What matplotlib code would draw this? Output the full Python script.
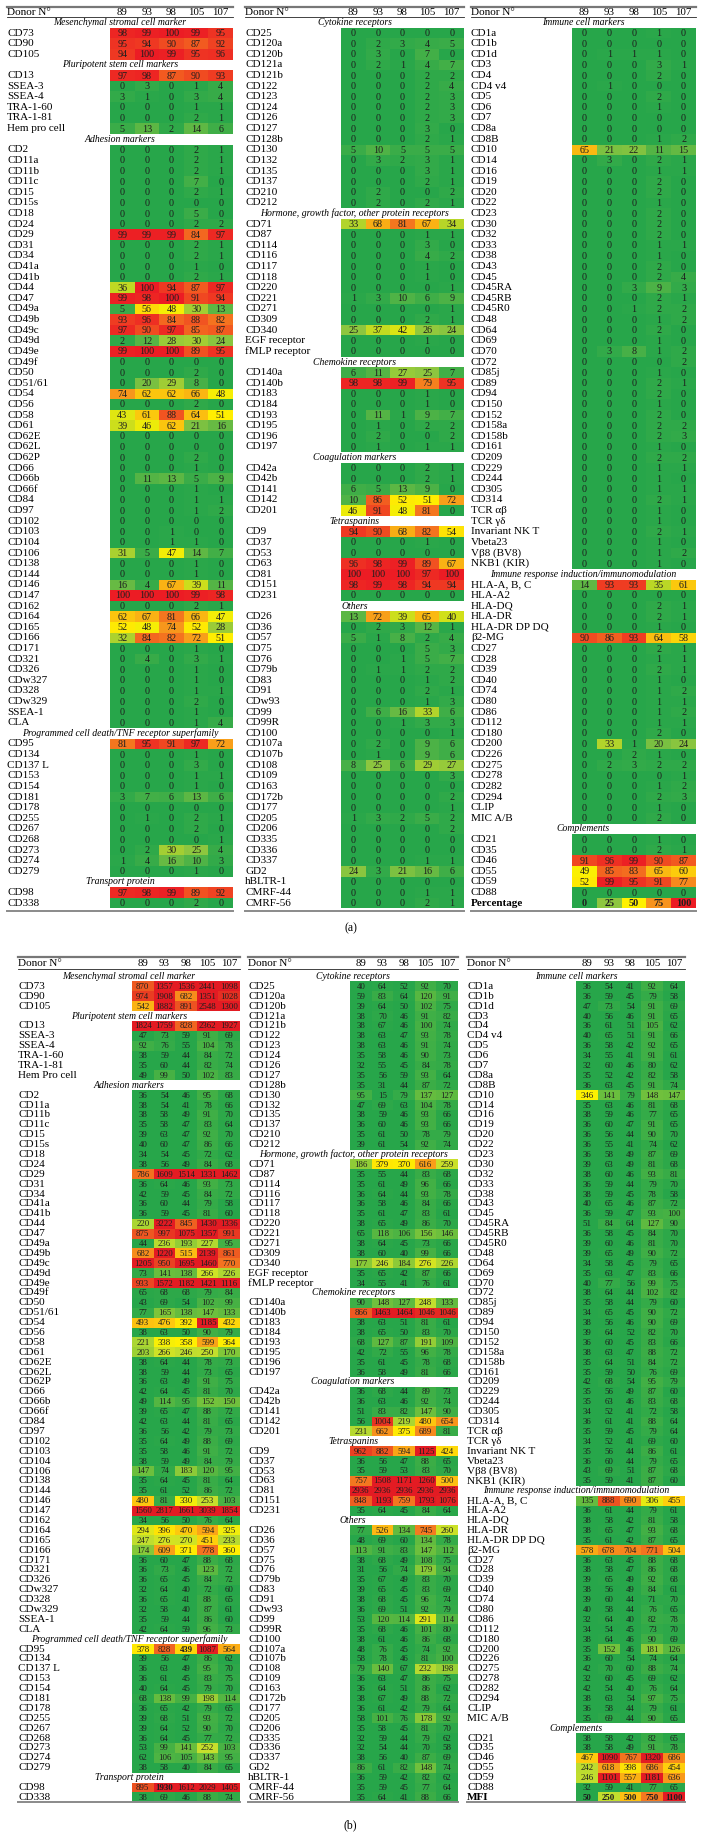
import numpy as np
import matplotlib
matplotlib.use("Agg")
import matplotlib.pyplot as plt
from matplotlib.colors import LinearSegmentedColormap, Normalize

plt.rcParams['font.family'] = ['Liberation Serif', 'DejaVu Serif']

donors = ["89", "93", "98", "105", "107"]

# ---------------- column 1 ----------------
msc_labels = ["CD73", "CD90", "CD105"]
msc_pct = [[98, 99, 100, 99, 95], [95, 94, 90, 87, 92], [94, 100, 99, 95, 96]]
msc_mfi = [[870, 1357, 1536, 2441, 1098], [974, 1908, 682, 1351, 1028], [542, 1882, 891, 2548, 1300]]

pluri_labels = ["CD13", "SSEA-3", "SSEA-4", "TRA-1-60", "TRA-1-81", "Hem pro cell"]
pluri_labels_b = ["CD13", "SSEA-3", "SSEA-4", "TRA-1-60", "TRA-1-81", "Hem Pro cell"]
pluri_pct = [[97, 98, 87, 90, 93], [0, 3, 0, 1, 4], [3, 1, 0, 3, 4], [0, 0, 0, 1, 1],
             [0, 0, 0, 2, 1], [5, 13, 2, 14, 6]]
pluri_mfi = [[1824, 1759, 828, 2362, 1927], [47, 73, 59, 91, 69], [92, 76, 55, 104, 78],
             [38, 59, 44, 84, 72], [35, 60, 44, 82, 74], [49, 99, 50, 102, 83]]

adh_labels = ["CD2", "CD11a", "CD11b", "CD11c", "CD15", "CD15s", "CD18", "CD24", "CD29", "CD31",
              "CD34", "CD41a", "CD41b", "CD44", "CD47", "CD49a", "CD49b", "CD49c", "CD49d", "CD49e",
              "CD49f", "CD50", "CD51/61", "CD54", "CD56", "CD58", "CD61", "CD62E", "CD62L", "CD62P",
              "CD66", "CD66b", "CD66f", "CD84", "CD97", "CD102", "CD103", "CD104", "CD106", "CD138",
              "CD144", "CD146", "CD147", "CD162", "CD164", "CD165", "CD166", "CD171", "CD321", "CD326",
              "CDw327", "CD328", "CDw329", "SSEA-1", "CLA"]
adh_pct = [[0, 0, 0, 2, 1], [0, 0, 0, 2, 1], [0, 0, 0, 2, 1], [0, 0, 0, 7, 0], [0, 0, 0, 2, 1],
           [0, 0, 0, 0, 0], [0, 0, 0, 5, 0], [0, 0, 0, 2, 2], [99, 99, 99, 84, 97], [0, 0, 0, 2, 1],
           [0, 0, 0, 2, 1], [0, 0, 0, 1, 0], [0, 0, 0, 2, 1], [36, 100, 94, 87, 97], [99, 98, 100, 91, 94],
           [5, 56, 48, 30, 13], [93, 96, 84, 88, 82], [97, 90, 97, 85, 87], [2, 12, 28, 30, 24],
           [99, 100, 100, 89, 95], [0, 0, 0, 0, 0], [0, 0, 0, 2, 0], [0, 20, 29, 8, 0],
           [74, 62, 62, 66, 48], [0, 0, 0, 2, 0], [43, 61, 88, 64, 51], [39, 46, 62, 21, 16],
           [0, 0, 0, 0, 0], [0, 0, 0, 0, 0], [0, 0, 0, 2, 0], [0, 0, 0, 1, 0], [0, 11, 13, 5, 9],
           [0, 0, 0, 1, 0], [0, 0, 0, 1, 1], [0, 0, 0, 1, 2], [0, 0, 0, 0, 0], [0, 0, 1, 0, 0],
           [0, 0, 1, 1, 0], [31, 5, 47, 14, 7], [0, 0, 0, 1, 0], [0, 0, 0, 1, 0], [16, 4, 67, 39, 11],
           [100, 100, 100, 99, 98], [0, 0, 0, 2, 1], [62, 67, 81, 66, 47], [52, 48, 74, 52, 28],
           [32, 84, 82, 72, 51], [0, 0, 0, 1, 0], [0, 4, 0, 3, 1], [0, 0, 0, 1, 0], [0, 0, 0, 1, 0],
           [0, 0, 0, 1, 1], [0, 0, 0, 2, 0], [0, 0, 0, 1, 0], [0, 0, 0, 1, 4]]
adh_mfi = [[36, 54, 46, 95, 68], [38, 54, 41, 78, 66], [38, 58, 49, 91, 70], [35, 58, 47, 83, 64],
           [39, 63, 47, 92, 70], [40, 60, 47, 86, 66], [34, 54, 45, 72, 62], [38, 56, 49, 84, 68],
           [786, 1609, 1514, 1331, 1462], [36, 64, 46, 93, 73], [42, 59, 45, 84, 72], [36, 60, 44, 79, 58],
           [36, 59, 45, 81, 60], [220, 3222, 845, 1430, 1336], [875, 997, 1075, 1357, 991],
           [44, 236, 193, 227, 95], [682, 1220, 515, 2139, 861], [1205, 950, 1695, 1460, 770],
           [73, 141, 138, 266, 226], [933, 1572, 1182, 1421, 1116], [65, 68, 68, 79, 84],
           [43, 69, 54, 102, 99], [77, 165, 138, 147, 133], [493, 476, 392, 1185, 432],
           [38, 63, 50, 90, 79], [221, 338, 358, 599, 364], [203, 266, 246, 250, 170],
           [38, 64, 44, 78, 73], [38, 59, 44, 73, 65], [36, 63, 49, 91, 75], [42, 64, 45, 81, 70],
           [49, 114, 95, 152, 150], [39, 65, 47, 88, 72], [42, 63, 44, 81, 65], [36, 56, 42, 79, 73],
           [35, 64, 49, 88, 69], [35, 58, 46, 91, 72], [38, 59, 49, 84, 79], [147, 74, 183, 120, 95],
           [35, 64, 45, 81, 64], [35, 61, 52, 86, 72], [480, 81, 330, 253, 103],
           [1560, 2817, 1661, 3039, 1854], [34, 56, 50, 76, 64], [294, 396, 470, 594, 325],
           [247, 276, 270, 451, 233], [174, 609, 371, 778, 360], [36, 60, 47, 88, 68],
           [36, 73, 46, 123, 72], [36, 65, 45, 84, 72], [32, 64, 40, 72, 60], [36, 65, 41, 88, 65],
           [32, 58, 40, 87, 61], [35, 59, 44, 86, 60], [42, 64, 59, 96, 73]]

pcd_labels = ["CD95", "CD134", "CD137 L", "CD153", "CD154", "CD181", "CD178", "CD255", "CD267",
              "CD268", "CD273", "CD274", "CD279"]
pcd_pct = [[81, 95, 91, 97, 72], [0, 0, 0, 1, 0], [0, 0, 0, 3, 0], [0, 0, 0, 1, 1], [0, 0, 0, 1, 0],
           [3, 7, 6, 13, 6], [0, 0, 0, 0, 0], [0, 1, 0, 2, 1], [0, 0, 0, 2, 0], [0, 0, 0, 0, 1],
           [0, 2, 30, 25, 4], [1, 4, 16, 10, 3], [0, 0, 0, 1, 0]]
pcd_mfi = [[378, 828, 439, 1087, 564], [39, 56, 47, 86, 62], [36, 63, 49, 95, 70], [36, 61, 45, 83, 75],
           [40, 64, 45, 79, 70], [68, 138, 99, 198, 114], [36, 65, 42, 79, 65], [39, 68, 51, 93, 72],
           [39, 64, 52, 90, 70], [36, 64, 45, 77, 72], [53, 99, 141, 252, 103], [62, 106, 105, 143, 95],
           [38, 58, 40, 84, 65]]

trans_labels = ["CD98", "CD338"]
trans_pct = [[97, 98, 99, 89, 92], [0, 0, 0, 2, 0]]
trans_mfi = [[895, 1930, 1612, 2029, 1405], [38, 69, 46, 88, 74]]

# ---------------- column 2 ----------------
cyto_labels = ["CD25", "CD120a", "CD120b", "CD121a", "CD121b", "CD122", "CD123", "CD124", "CD126",
               "CD127", "CD128b", "CD130", "CD132", "CD135", "CD137", "CD210", "CD212"]
cyto_pct = [[0, 0, 0, 0, 0], [0, 2, 3, 4, 5], [0, 3, 0, 7, 0], [0, 2, 1, 4, 7], [0, 0, 0, 2, 2],
            [0, 0, 0, 2, 4], [0, 0, 0, 2, 3], [0, 0, 0, 2, 3], [0, 0, 0, 2, 3], [0, 0, 0, 3, 0],
            [0, 0, 0, 2, 1], [5, 10, 5, 5, 5], [0, 3, 2, 3, 1], [0, 0, 0, 3, 1], [0, 0, 0, 2, 1],
            [0, 2, 0, 0, 2], [0, 2, 0, 2, 1]]
cyto_mfi = [[40, 64, 52, 92, 70], [59, 83, 64, 120, 91], [39, 64, 50, 102, 75], [38, 70, 46, 91, 82],
            [38, 67, 46, 100, 74], [38, 63, 47, 93, 78], [38, 63, 46, 91, 74], [35, 58, 46, 90, 73],
            [32, 55, 45, 84, 78], [35, 56, 59, 93, 64], [35, 31, 44, 87, 72], [95, 15, 79, 137, 127],
            [47, 69, 63, 104, 78], [38, 59, 46, 93, 66], [36, 60, 46, 93, 66], [35, 61, 50, 78, 79],
            [39, 61, 54, 92, 74]]

horm_labels = ["CD71", "CD87", "CD114", "CD116", "CD117", "CD118", "CD220", "CD221", "CD271",
               "CD309", "CD340", "EGF receptor", "fMLP receptor"]
horm_pct = [[33, 68, 81, 67, 34], [0, 0, 0, 1, 1], [0, 0, 0, 3, 0], [0, 0, 0, 4, 2], [0, 0, 0, 1, 0],
            [0, 0, 0, 1, 0], [0, 0, 0, 0, 1], [1, 3, 10, 6, 9], [0, 0, 0, 0, 1], [0, 0, 0, 2, 1],
            [25, 37, 42, 26, 24], [0, 0, 0, 1, 0], [0, 0, 0, 0, 0]]
horm_mfi = [[186, 379, 370, 616, 259], [35, 55, 44, 83, 68], [35, 61, 49, 96, 66], [36, 64, 44, 93, 78],
            [36, 58, 46, 84, 66], [35, 61, 47, 83, 61], [38, 65, 49, 86, 70], [65, 118, 106, 156, 146],
            [38, 64, 45, 73, 66], [38, 60, 40, 99, 66], [177, 246, 184, 276, 226], [35, 65, 42, 87, 66],
            [34, 55, 41, 76, 61]]

chemo_labels = ["CD140a", "CD140b", "CD183", "CD184", "CD193", "CD195", "CD196", "CD197"]
chemo_pct = [[6, 11, 27, 25, 7], [98, 98, 99, 79, 95], [0, 0, 0, 1, 0], [0, 0, 0, 1, 0],
             [0, 11, 1, 9, 7], [0, 1, 0, 2, 2], [0, 2, 0, 0, 2], [0, 1, 0, 1, 1]]
chemo_mfi = [[90, 148, 127, 248, 133], [866, 1463, 1464, 1046, 1046], [38, 63, 51, 81, 61],
             [38, 65, 50, 83, 70], [68, 127, 87, 191, 109], [42, 72, 55, 96, 78], [35, 61, 45, 78, 68],
             [36, 58, 49, 81, 66]]

coag_labels = ["CD42a", "CD42b", "CD141", "CD142", "CD201"]
coag_pct = [[0, 0, 0, 2, 1], [0, 0, 0, 2, 1], [6, 5, 13, 9, 0], [10, 86, 52, 51, 72], [46, 91, 48, 81, 0]]
coag_mfi = [[36, 68, 44, 89, 73], [36, 63, 46, 92, 74], [51, 83, 82, 147, 90], [56, 1004, 219, 480, 654],
            [231, 662, 375, 689, 81]]

tetra_labels = ["CD9", "CD37", "CD53", "CD63", "CD81", "CD151", "CD231"]
tetra_pct = [[94, 90, 68, 82, 54], [0, 0, 0, 1, 0], [0, 0, 0, 0, 0], [96, 98, 99, 89, 67],
             [100, 100, 100, 97, 100], [98, 99, 98, 94, 94], [0, 0, 0, 0, 0]]
tetra_mfi = [[962, 882, 594, 1125, 424], [36, 56, 47, 88, 65], [35, 59, 53, 83, 70],
             [757, 1508, 1171, 1260, 500], [2936, 2936, 2936, 2936, 2936], [848, 1193, 759, 1793, 1076],
             [35, 64, 45, 84, 64]]

other_labels = ["CD26", "CD36", "CD57", "CD75", "CD76", "CD79b", "CD83", "CD91", "CDw93", "CD99",
                "CD99R", "CD100", "CD107a", "CD107b", "CD108", "CD109", "CD163", "CD172b", "CD177",
                "CD205", "CD206", "CD335", "CD336", "CD337", "GD2", "hBLTR-1", "CMRF-44", "CMRF-56"]
other_pct = [[13, 72, 39, 65, 40], [0, 2, 3, 12, 1], [5, 1, 8, 2, 4], [0, 0, 0, 5, 3], [0, 0, 1, 5, 7],
             [0, 1, 1, 2, 2], [0, 0, 0, 1, 2], [0, 0, 0, 2, 1], [0, 0, 0, 1, 3], [0, 6, 16, 33, 6],
             [0, 0, 1, 3, 3], [0, 0, 0, 0, 1], [0, 2, 0, 9, 6], [0, 1, 0, 9, 6], [8, 25, 6, 29, 27],
             [0, 0, 0, 0, 3], [0, 0, 0, 0, 0], [0, 0, 0, 0, 2], [0, 0, 0, 0, 1], [1, 3, 2, 5, 2],
             [0, 0, 0, 0, 2], [0, 0, 0, 0, 0], [0, 0, 0, 0, 0], [0, 0, 0, 1, 1], [24, 3, 21, 16, 6],
             [0, 0, 0, 0, 0], [0, 0, 0, 1, 1], [0, 0, 0, 2, 1]]
other_mfi = [[77, 526, 134, 745, 260], [48, 69, 60, 134, 78], [113, 91, 83, 147, 112], [38, 68, 49, 108, 75],
             [31, 56, 74, 179, 94], [35, 67, 49, 83, 70], [39, 65, 45, 83, 69], [38, 68, 45, 96, 74],
             [36, 69, 51, 92, 79], [53, 120, 114, 291, 114], [35, 68, 46, 101, 80], [38, 61, 46, 86, 68],
             [48, 76, 45, 74, 92], [58, 78, 46, 81, 100], [79, 140, 67, 232, 198], [36, 63, 47, 86, 75],
             [36, 64, 51, 86, 62], [38, 67, 49, 88, 72], [36, 61, 42, 79, 64], [58, 101, 76, 178, 92],
             [35, 58, 45, 81, 70], [32, 59, 44, 79, 62], [32, 54, 44, 70, 58], [38, 56, 40, 87, 69],
             [86, 61, 82, 148, 74], [36, 59, 42, 82, 62], [35, 59, 45, 77, 64], [35, 64, 41, 88, 66]]

# ---------------- column 3 ----------------
imm_labels = ["CD1a", "CD1b", "CD1d", "CD3", "CD4", "CD4 v4", "CD5", "CD6", "CD7", "CD8a", "CD8B",
              "CD10", "CD14", "CD16", "CD19", "CD20", "CD22", "CD23", "CD30", "CD32", "CD33", "CD38",
              "CD43", "CD45", "CD45RA", "CD45RB", "CD45R0", "CD48", "CD64", "CD69", "CD70", "CD72",
              "CD85j", "CD89", "CD94", "CD150", "CD152", "CD158a", "CD158b", "CD161", "CD209", "CD229",
              "CD244", "CD305", "CD314", "TCR αβ", "TCR γδ", "Invariant NK T", "Vbeta23", "Vβ8 (BV8)",
              "NKB1 (KIR)"]
imm_pct = [[0, 0, 0, 1, 0], [0, 0, 0, 0, 0], [0, 1, 1, 1, 0], [0, 0, 0, 3, 1], [0, 0, 0, 2, 0],
           [0, 1, 0, 0, 0], [0, 0, 0, 2, 0], [0, 0, 0, 1, 0], [0, 0, 0, 0, 0], [0, 0, 0, 0, 0],
           [0, 0, 0, 1, 2], [65, 21, 22, 11, 15], [0, 3, 0, 2, 1], [0, 0, 0, 1, 1], [0, 0, 0, 2, 0],
           [0, 0, 0, 2, 0], [0, 0, 0, 1, 0], [0, 0, 0, 2, 0], [0, 0, 0, 2, 0], [0, 0, 0, 2, 0],
           [0, 0, 0, 1, 1], [0, 0, 0, 1, 0], [0, 0, 0, 2, 0], [0, 0, 0, 2, 4], [0, 0, 3, 9, 3],
           [0, 0, 0, 2, 1], [0, 0, 1, 2, 2], [0, 0, 0, 1, 2], [0, 0, 0, 2, 0], [0, 0, 0, 1, 0],
           [0, 3, 8, 1, 2], [0, 0, 0, 0, 2], [0, 0, 0, 1, 0], [0, 0, 0, 2, 1], [0, 0, 0, 2, 0],
           [0, 0, 0, 1, 0], [0, 0, 0, 2, 0], [0, 0, 0, 2, 2], [0, 0, 0, 2, 3], [0, 0, 0, 1, 0],
           [0, 0, 0, 2, 2], [0, 0, 0, 1, 1], [0, 0, 0, 1, 0], [0, 0, 0, 1, 1], [0, 0, 0, 2, 1],
           [0, 0, 0, 1, 0], [0, 0, 0, 1, 0], [0, 0, 0, 2, 1], [0, 0, 0, 1, 0], [0, 0, 0, 1, 2],
           [0, 0, 0, 1, 0]]
imm_mfi = [[36, 54, 41, 92, 64], [36, 59, 45, 79, 58], [47, 73, 54, 91, 69], [40, 56, 46, 91, 65],
           [36, 61, 51, 105, 62], [40, 65, 51, 91, 66], [36, 58, 42, 92, 65], [34, 55, 41, 91, 61],
           [32, 60, 46, 80, 62], [35, 52, 42, 82, 58], [36, 63, 45, 91, 74], [346, 141, 79, 148, 147],
           [35, 63, 46, 81, 68], [38, 59, 46, 77, 65], [36, 60, 47, 91, 65], [36, 56, 44, 90, 70],
           [36, 55, 41, 74, 62], [36, 58, 49, 87, 69], [39, 63, 49, 81, 68], [38, 60, 46, 93, 81],
           [36, 59, 44, 79, 70], [38, 59, 45, 78, 58], [40, 65, 46, 87, 72], [36, 59, 47, 93, 100],
           [51, 84, 64, 127, 90], [36, 58, 45, 84, 70], [39, 60, 46, 81, 70], [39, 65, 49, 90, 72],
           [34, 58, 45, 79, 65], [35, 63, 47, 83, 66], [40, 77, 56, 99, 75], [38, 64, 44, 102, 82],
           [35, 58, 44, 79, 60], [34, 65, 45, 90, 72], [38, 56, 46, 90, 69], [39, 64, 52, 82, 70],
           [36, 60, 45, 83, 66], [38, 63, 47, 88, 72], [35, 64, 51, 84, 72], [35, 59, 50, 76, 69],
           [42, 68, 54, 95, 79], [35, 56, 49, 87, 60], [35, 63, 46, 83, 68], [34, 52, 41, 72, 58],
           [36, 61, 41, 88, 64], [35, 59, 45, 79, 64], [34, 52, 41, 69, 60], [35, 56, 44, 86, 61],
           [36, 60, 44, 79, 65], [43, 69, 51, 87, 68], [35, 59, 41, 87, 60]]

resp_labels = ["HLA-A, B, C", "HLA-A2", "HLA-DQ", "HLA-DR", "HLA-DR DP DQ", "β2-MG", "CD27", "CD28",
               "CD39", "CD40", "CD74", "CD80", "CD86", "CD112", "CD180", "CD200", "CD226", "CD275",
               "CD278", "CD282", "CD294", "CLIP", "MIC A/B"]
resp_pct = [[14, 93, 93, 35, 61], [0, 0, 0, 0, 0], [0, 0, 0, 2, 1], [0, 0, 0, 2, 1], [0, 0, 0, 1, 0],
            [90, 86, 93, 64, 58], [0, 0, 0, 2, 1], [0, 0, 0, 1, 1], [0, 0, 0, 2, 1], [0, 0, 0, 1, 0],
            [0, 0, 0, 1, 2], [0, 0, 0, 1, 1], [0, 0, 0, 1, 2], [0, 0, 0, 1, 1], [0, 0, 0, 2, 0],
            [0, 33, 1, 20, 24], [0, 0, 2, 1, 0], [0, 2, 3, 2, 2], [0, 0, 0, 0, 1], [0, 0, 0, 1, 2],
            [0, 0, 0, 2, 3], [0, 0, 0, 1, 0], [0, 0, 0, 2, 0]]
resp_mfi = [[135, 888, 690, 306, 455], [36, 61, 44, 79, 61], [38, 58, 42, 81, 58], [38, 65, 47, 93, 68],
            [35, 61, 42, 87, 65], [578, 678, 704, 771, 504], [36, 63, 45, 88, 68], [38, 58, 47, 86, 68],
            [39, 65, 49, 92, 68], [38, 56, 49, 84, 61], [39, 60, 44, 71, 70], [40, 58, 44, 76, 65],
            [32, 64, 40, 82, 78], [34, 54, 45, 73, 70], [38, 64, 46, 90, 69], [35, 152, 46, 181, 126],
            [36, 60, 54, 74, 64], [42, 70, 60, 88, 74], [32, 60, 45, 69, 62], [42, 54, 40, 76, 64],
            [38, 63, 54, 97, 75], [36, 58, 44, 79, 61], [35, 69, 44, 90, 65]]

comp_labels = ["CD21", "CD35", "CD46", "CD55", "CD59", "CD88"]
comp_pct = [[0, 0, 0, 1, 0], [0, 0, 0, 2, 1], [91, 96, 99, 90, 87], [49, 85, 83, 65, 60],
            [52, 99, 95, 91, 77], [0, 0, 0, 0, 0]]
comp_mfi = [[38, 58, 42, 82, 65], [38, 58, 49, 91, 78], [467, 1090, 767, 1320, 686],
            [242, 618, 398, 686, 454], [246, 1101, 557, 1181, 636], [32, 59, 41, 77, 65]]

pct_scale = [0, 25, 50, 75, 100]
mfi_scale = [50, 250, 500, 750, 1100]

# ---------------- layout / style ----------------
W, H = 703, 1838
fig = plt.figure(figsize=(W / 100, H / 100), dpi=100)

green = '#27a64a'
cmap_a = LinearSegmentedColormap.from_list(
    'pct', [(0, green), (0.25, '#8dc63f'), (0.5, '#fff200'), (0.75, '#f7941d'), (1, '#ec1c24')])
norm_a = Normalize(0, 100, clip=True)
mfi_nodes = [(30, green), (60, green), (250, '#c5df2d'), (350, '#fff200'), (500, '#fdbf12'),
             (750, '#f47920'), (1100, '#e31b23')]
cmap_b = LinearSegmentedColormap.from_list(
    'mfi', [((v - 30) / 1070, c) for v, c in mfi_nodes])
norm_b = Normalize(30, 1100, clip=True)

panels = {
    'a': dict(top=7, header=12.8, under=17.3, y0=22.5, pitch=10.61, bottom=911,
              cols=[(7, 110, 233), (245, 341, 464), (471, 572, 696)],
              cmap=cmap_a, norm=norm_a, num_size=7.3, caption=(351, 928)),
    'b': dict(top=957, header=963.5, under=969, y0=976.5, pitch=9.89, bottom=1802,
              cols=[(18, 132, 240), (248, 350, 458), (467, 576, 685)],
              cmap=cmap_b, norm=norm_b, num_size=6.3, caption=(350, 1825)),
}
bold_cells = {'b': [("CD95", 2), ("CD98", 1)]}
text_dark = '#1e1e1e'


def draw_column(key, ci, sections, legend=None):
    lay = panels[key]
    lx, cl, cr = lay['cols'][ci]
    cw = (cr - cl) / 5.0
    y0, p = lay['y0'], lay['pitch']

    rows = []
    for title, labels, vals in sections:
        rows.append(('title', title, None))
        for lab, v in zip(labels, vals):
            rows.append(('data', lab, v))
    if legend is not None:
        rows.append(('legend', legend[0], legend[1]))
    n = len(rows)
    grid = np.full((n, 5), np.nan)
    for i, (kind, lab, v) in enumerate(rows):
        if v is not None:
            grid[i] = v

    top_px, bot_px = lay['top'] - 3, lay['bottom'] + 3
    ax = fig.add_axes([lx / W, 1 - bot_px / H, (cr - lx) / W, (bot_px - top_px) / H])
    to_row = lambda px: (px - y0) / p
    xmin = -(cl - lx) / cw
    ax.set_xlim(xmin, 5)
    ax.set_ylim(to_row(bot_px), to_row(top_px))
    ax.axis('off')

    ax.pcolormesh(np.arange(6), np.arange(n + 1) - 0.5, np.ma.masked_invalid(grid),
                  cmap=lay['cmap'], norm=lay['norm'], shading='flat')

    # header
    hy = to_row(lay['header'])
    ax.text(xmin, hy, "Donor N°", ha='left', va='center', fontsize=8.0)
    for j, d in enumerate(donors):
        ax.text(j + 0.5, hy, d, ha='center', va='center', fontsize=7.8)
    ax.plot([xmin, 5], [to_row(lay['top'])] * 2, color='#777777', lw=1.6, clip_on=False)
    ax.plot([xmin, 5], [to_row(lay['under'])] * 2, color='#222222', lw=0.6, clip_on=False)
    ax.plot([xmin, 5], [to_row(lay['bottom'])] * 2, color='#8a8a8a', lw=1.4, clip_on=False)

    bolds = bold_cells.get(key, [])
    for i, (kind, lab, v) in enumerate(rows):
        if kind == 'title':
            ax.text((xmin + 5) / 2, i, lab, ha='center', va='center', fontsize=7.0,
                    style='italic')
            continue
        weight = 'bold' if kind == 'legend' else 'normal'
        ax.text(xmin, i, lab, ha='left', va='center', fontsize=8.0, weight=weight)
        for j, val in enumerate(v):
            w = 'bold' if (kind == 'legend' or (lab, j) in bolds) else 'normal'
            ax.text(j + 0.5, i + 0.05, str(val), ha='center', va='center',
                    fontsize=lay['num_size'], color=text_dark, weight=w)


for key, vals in (('a', 'pct'), ('b', 'mfi')):
    g = globals()
    pl = pluri_labels if key == 'a' else pluri_labels_b
    draw_column(key, 0, [
        ("Mesenchymal stromal cell marker", msc_labels, g['msc_' + vals]),
        ("Pluripotent stem cell markers", pl, g['pluri_' + vals]),
        ("Adhesion markers", adh_labels, g['adh_' + vals]),
        ("Programmed cell death/TNF receptor superfamily", pcd_labels, g['pcd_' + vals]),
        ("Transport protein", trans_labels, g['trans_' + vals]),
    ])
    draw_column(key, 1, [
        ("Cytokine receptors", cyto_labels, g['cyto_' + vals]),
        ("Hormone, growth factor, other protein receptors", horm_labels, g['horm_' + vals]),
        ("Chemokine receptors", chemo_labels, g['chemo_' + vals]),
        ("Coagulation markers", coag_labels, g['coag_' + vals]),
        ("Tetraspanins", tetra_labels, g['tetra_' + vals]),
        ("Others", other_labels, g['other_' + vals]),
    ])
    legend = ("Percentage", pct_scale) if key == 'a' else ("MFI", mfi_scale)
    draw_column(key, 2, [
        ("Immune cell markers", imm_labels, g['imm_' + vals]),
        ("Immune response induction/immunomodulation", resp_labels, g['resp_' + vals]),
        ("Complements", comp_labels, g['comp_' + vals]),
    ], legend=legend)
    cx, cy = panels[key]['caption']
    fig.text(cx / W, 1 - cy / H, "(%s)" % key, ha='center', va='center', fontsize=8.5)

fig.savefig("out.png", dpi=100)
